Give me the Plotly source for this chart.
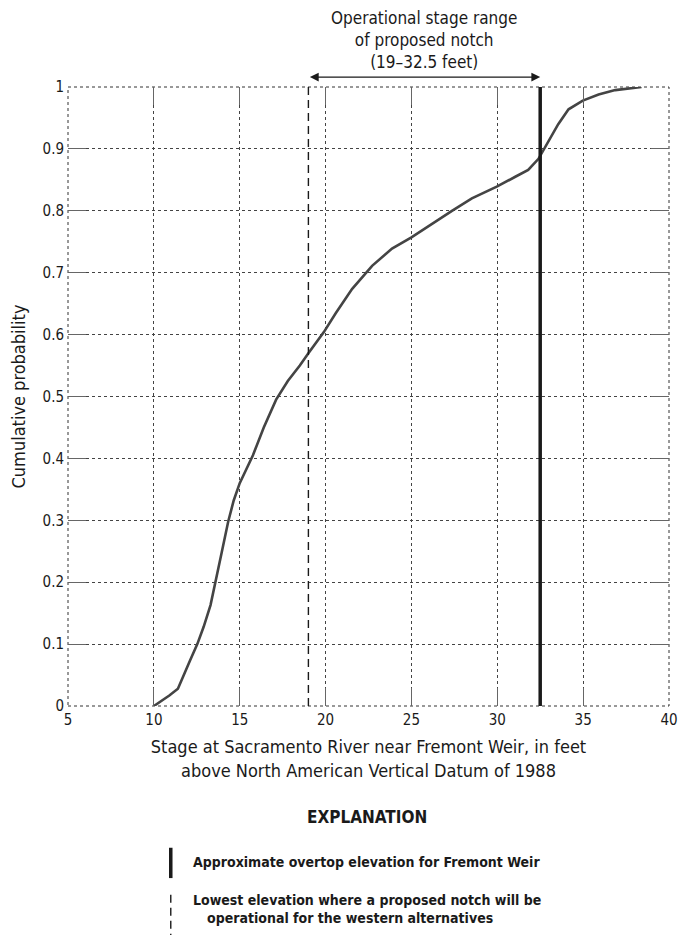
import plotly.graph_objects as go

# Cumulative distribution of stage, Sacramento River near Fremont Weir
stage_ft = [10.0, 10.5, 10.9, 11.4, 11.7, 12.1, 12.53, 12.9, 13.3, 13.58, 13.95,
            14.33, 14.65, 15.0, 15.77, 16.4, 17.12, 17.8, 18.5, 19.03, 19.9, 20.58,
            21.55, 22.71, 23.87, 25.0, 26.2, 27.36, 28.52, 29.97, 31.05, 31.8,
            32.4, 33.0, 33.55, 34.15, 34.98, 35.9, 36.87, 38.4]
cum_prob = [0.0, 0.009, 0.017, 0.028, 0.048, 0.073, 0.1, 0.128, 0.163, 0.198, 0.248,
            0.298, 0.332, 0.36, 0.405, 0.45, 0.495, 0.525, 0.55, 0.571, 0.604, 0.634,
            0.674, 0.711, 0.739, 0.757, 0.779, 0.8, 0.82, 0.839, 0.855, 0.866,
            0.884, 0.914, 0.94, 0.964, 0.978, 0.988, 0.995, 1.0]

notch_low = 19.0      # lowest operational elevation of proposed notch
overtop = 32.5        # approximate overtop elevation for Fremont Weir

x_ticks = [5, 10, 15, 20, 25, 30, 35, 40]
y_ticks = [0, 0.1, 0.2, 0.3, 0.4, 0.5, 0.6, 0.7, 0.8, 0.9, 1]
y_tick_text = ["0", "0.1", "0.2", "0.3", "0.4", "0.5", "0.6", "0.7", "0.8", "0.9", "1"]

X_MIN, X_MAX = 5, 40
W, H = 678, 941
M_L, M_R, M_T, M_B = 68, 9, 87, 235
PLOT_W = W - M_L - M_R

FONT = "DejaVu Sans Condensed, Liberation Sans Narrow, Arial Narrow, sans-serif"
INK = "#1a1a1a"

fig = go.Figure()

fig.add_trace(go.Scatter(
    x=stage_ft, y=cum_prob, mode="lines",
    line=dict(color="#444444", width=2.6),
    hoverinfo="skip", showlegend=False,
))

# Reference elevations
fig.add_shape(type="line", xref="x", yref="y", x0=notch_low, x1=notch_low, y0=0, y1=1,
              line=dict(color=INK, width=1.4, dash="8px,5px"))
fig.add_shape(type="line", xref="x", yref="y", x0=overtop, x1=overtop, y0=0, y1=1,
              line=dict(color=INK, width=3.5))

# Dotted plot frame
fig.add_shape(type="rect", xref="paper", yref="paper", x0=0, x1=1, y0=0, y1=1,
              line=dict(color="#333333", width=1, dash="dot"), layer="below")

# Operational range: double-headed arrow from notch_low to overtop
arrow_px = (overtop - notch_low) * PLOT_W / (X_MAX - X_MIN)
fig.add_annotation(x=overtop, y=1.016, xref="x", yref="paper",
                   ax=-arrow_px, ay=0, axref="pixel", ayref="pixel",
                   text="", showarrow=True, arrowhead=2, arrowside="end+start",
                   arrowsize=1.6, arrowwidth=1.1, arrowcolor=INK)
fig.add_annotation(x=(notch_low + overtop) / 2, y=1.021, xref="x", yref="paper",
                   text="Operational stage range<br>of proposed notch<br>(19–32.5 feet)",
                   showarrow=False, yanchor="bottom",
                   font=dict(family=FONT, size=17, color=INK))

# Explanation block
LEG_FONT = dict(family=FONT, size=14, color=INK)
fig.add_annotation(x=0.498, y=-0.179, xref="paper", yref="paper", yanchor="middle",
                   text="<b>EXPLANATION</b>", showarrow=False,
                   font=dict(family=FONT, size=17, color=INK))
fig.add_shape(type="line", xref="paper", yref="paper", x0=0.171, x1=0.171,
              y0=-0.229, y1=-0.278, line=dict(color=INK, width=3.5))
fig.add_annotation(x=0.205, y=-0.252, xref="paper", yref="paper",
                   xanchor="left", yanchor="middle",
                   text="<b>Approximate overtop elevation for Fremont Weir</b>",
                   showarrow=False, font=LEG_FONT)
fig.add_shape(type="line", xref="paper", yref="paper", x0=0.171, x1=0.171,
              y0=-0.305, y1=-0.370, line=dict(color=INK, width=1.4, dash="8px,5px"))
fig.add_annotation(x=0.205, y=-0.313, xref="paper", yref="paper",
                   xanchor="left", yanchor="middle",
                   text="<b>Lowest elevation where a proposed notch will be</b>",
                   showarrow=False, font=LEG_FONT)
fig.add_annotation(x=0.228, y=-0.342, xref="paper", yref="paper",
                   xanchor="left", yanchor="middle",
                   text="<b>operational for the western alternatives</b>",
                   showarrow=False, font=LEG_FONT)

axis_common = dict(
    showgrid=True, gridcolor="#444444", gridwidth=1, griddash="dot",
    zeroline=False, showline=True, linecolor="rgba(0,0,0,0)", mirror="ticks",
    ticks="inside", ticklen=18, tickwidth=1, tickcolor="#666666",
    ticklabeloverflow="allow", automargin=False,
    tickfont=dict(family=FONT, size=15, color=INK),
)

fig.update_xaxes(
    range=[X_MIN - 0.001, X_MAX + 0.001], tickvals=x_ticks,
    title=dict(text="Stage at Sacramento River near Fremont Weir, in feet<br>"
                    "above North American Vertical Datum of 1988",
               font=dict(family=FONT, size=18, color=INK), standoff=12),
    **axis_common,
)
fig.update_yaxes(
    range=[0, 1], tickvals=y_ticks, ticktext=y_tick_text,
    title=dict(text="Cumulative probability",
               font=dict(family=FONT, size=18, color=INK), standoff=12),
    **axis_common,
)

fig.update_layout(
    width=W, height=H,
    margin=dict(l=M_L, r=M_R, t=M_T, b=M_B),
    paper_bgcolor="white", plot_bgcolor="white",
    font=dict(family=FONT, color=INK),
)

fig.write_html("out.html")
